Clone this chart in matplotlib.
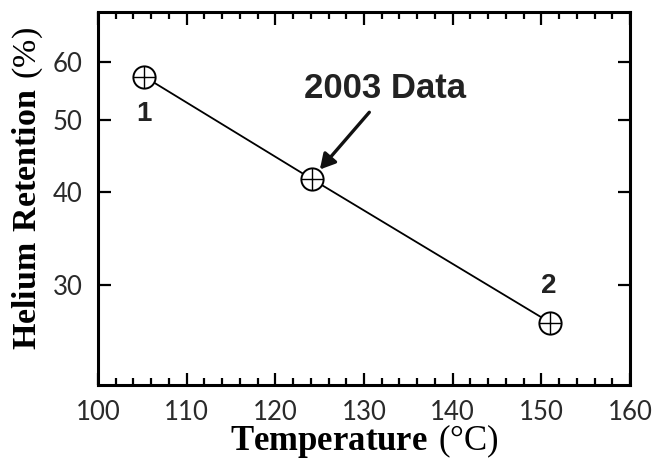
import matplotlib
matplotlib.use('Agg')
import matplotlib.pyplot as plt
from matplotlib.ticker import FixedLocator, NullLocator, MultipleLocator, NullFormatter

# data
temps = [105.2, 124.1, 151.0]
retention = [57.3, 41.7, 26.7]
point_labels = ['1', '', '2']
y_ticks = [30, 40, 50, 60]

plt.rcParams['mathtext.fontset'] = 'custom'
plt.rcParams['mathtext.rm'] = 'Liberation Serif'
plt.rcParams['mathtext.bf'] = 'Liberation Serif:bold'

fig = plt.figure(figsize=(6.6, 4.63), dpi=100)
ax = fig.add_axes([0.1485, 0.1685, 0.806, 0.8055])

ax.plot(temps, retention, color='black', lw=1.3, zorder=2)
ax.plot(temps, retention, 'o', ms=16, mfc='white', mec='black', mew=1.4, ls='none', zorder=3)
ax.plot(temps, retention, '+', ms=16, mec='black', mew=1.0, ls='none', zorder=4)

ax.set_yscale('log')
ax.set_xlim(100, 160)
ax.set_ylim(22, 70)

ax.xaxis.set_major_locator(MultipleLocator(10))
ax.xaxis.set_minor_locator(MultipleLocator(2))
ax.yaxis.set_major_locator(FixedLocator(y_ticks))
ax.yaxis.set_minor_locator(NullLocator())
ax.yaxis.set_minor_formatter(NullFormatter())
ax.set_yticklabels([str(v) for v in y_ticks])

for s in ax.spines.values():
    s.set_linewidth(2.2)

ax.tick_params(which='both', direction='in', top=True, right=True, width=1.6)
ax.tick_params(which='major', length=9)
ax.tick_params(which='minor', length=5)
ax.tick_params(axis='x', pad=11)
ax.tick_params(axis='y', pad=11)
for lab in ax.get_xticklabels() + ax.get_yticklabels():
    lab.set_fontfamily('Lato')
    lab.set_fontsize(18.5)
    lab.set_color('#2a2a2a')

ax.set_xlabel(r'$\mathbf{Temperature}\ \mathrm{(°C)}$', fontsize=25)
ax.xaxis.set_label_coords(0.5, -0.1)
ax.set_ylabel(r'$\mathbf{Helium\ Retention}\ \mathrm{(\%)}$', fontsize=24.5)
ax.yaxis.set_label_coords(-0.1, 0.528)

# point numbers
for x, y, t in zip(temps, retention, point_labels):
    if t == '1':
        ax.annotate(t, (x, y), xytext=(0, -32), textcoords='offset points', ha='center',
                    fontsize=20, fontweight='bold', family='Liberation Sans', color='#222222')
    elif t == '2':
        ax.annotate(t, (x, y), xytext=(-1, 21), textcoords='offset points', ha='center',
                    fontsize=20, fontweight='bold', family='Liberation Sans', color='#222222')

ax.annotate('2003 Data', xy=(temps[1], retention[1]), xytext=(53, 53), textcoords='offset points',
            ha='center', va='bottom', fontsize=25, fontweight='bold', family='Liberation Sans',
            color='#222222')
ax.annotate('', xy=(temps[1], retention[1]), xytext=(41.5, 48), textcoords='offset points',
            arrowprops=dict(arrowstyle='-|>,head_length=0.9,head_width=0.5', color='#111111', lw=2.4,
                            shrinkA=0, shrinkB=9))

fig.savefig('out.png', dpi=100)
